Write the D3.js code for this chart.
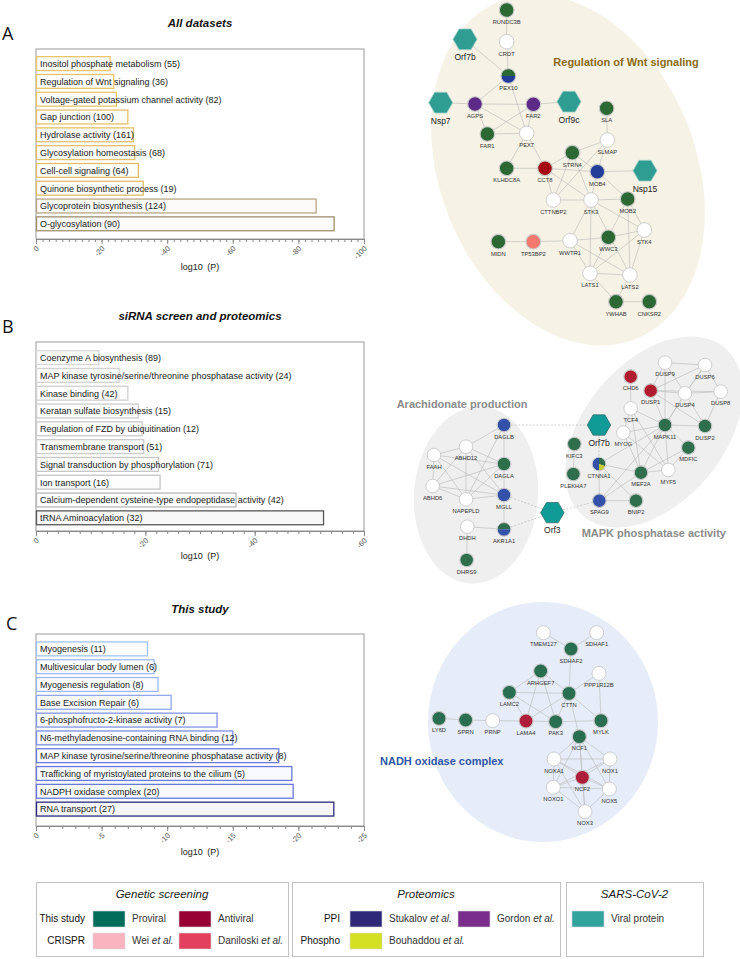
<!DOCTYPE html>
<html>
<head>
<meta charset="utf-8">
<script src="https://cdn.jsdelivr.net/npm/d3@7"></script>
<style>
  body { margin: 0; background: #fff; }
  svg { display: block; font-family: 'Liberation Sans', Arial, sans-serif; }
</style>
</head>
<body>
<svg id="fig" width="740" height="959"></svg>
<script>
// ---------- enrichment bars (log10 P) ----------
const termsA = ['Inositol phosphate metabolism (55)', 'Regulation of Wnt signaling (36)',
  'Voltage-gated potassium channel activity (82)', 'Gap junction (100)', 'Hydrolase activity (161)',
  'Glycosylation homeostasis (68)', 'Cell-cell signaling (64)', 'Quinone biosynthetic process (19)',
  'Glycoprotein biosynthesis (124)', 'O-glycosylation (90)'];
const logPA = [-22.6, -23.7, -24.5, -28.0, -29.7, -30.1, -31.2, -32.7, -85.4, -90.9];

const termsB = ['Coenzyme A biosynthesis (89)', 'MAP kinase tyrosine/serine/threonine phosphatase activity (24)',
  'Kinase binding (42)', 'Keratan sulfate biosynthesis (15)', 'Regulation of FZD by ubiquitination (12)',
  'Transmembrane transport (51)', 'Signal transduction by phosphorylation (71)', 'Ion transport (16)',
  'Calcium-dependent cysteine-type endopeptidase activity (42)', 'tRNA Aminoacylation (32)'];
const logPB = [-11.5, -15.2, -16.8, -18.7, -19.4, -19.7, -22.4, -22.7, -36.6, -52.6];

const termsC = ['Myogenesis (11)', 'Multivesicular body lumen (6)', 'Myogenesis regulation (8)',
  'Base Excision Repair (6)', '6-phosphofructo-2-kinase activity (7)',
  'N6-methyladenosine-containing RNA binding (12)', 'MAP kinase tyrosine/serine/threonine phosphatase activity (8)',
  'Trafficking of myristoylated proteins to the cilium (5)', 'NADPH oxidase complex (20)', 'RNA transport (27)'];
const logPC = [-8.5, -9.0, -9.3, -10.3, -13.8, -15.0, -18.5, -19.5, -19.6, -22.7];

const ticksA = [0, -20, -40, -60, -80, -100];
const ticksB = [0, -20, -40, -60];
const ticksC = [0, -5, -10, -15, -20, -25];

// ---------- networks: [gene, layoutX, layoutY, source] ----------
const nodesA = [
  ['RUNDC3B', 320, 30, 'pro'], ['CRDT', 320, 125, 'none'], ['Orf7b', 195, 118, 'viral'],
  ['PEX10', 325, 228, 'pro|stuk'], ['Nsp7', 122, 308, 'viral'], ['AGPS', 225, 312, 'gordon'],
  ['FAR2', 400, 313, 'gordon'], ['Orf9c', 507, 305, 'viral'], ['SLA', 620, 325, 'pro'],
  ['FAR1', 262, 402, 'pro'], ['PEX7', 380, 400, 'none'], ['SLMAP', 622, 420, 'none'],
  ['STRN4', 517, 458, 'pro'], ['KLHDC8A', 320, 505, 'pro'], ['CCT8', 435, 505, 'anti'],
  ['MOB4', 592, 515, 'stuk'], ['Nsp15', 735, 512, 'viral'], ['CTTNBP2', 460, 600, 'none'],
  ['STK3', 573, 600, 'none'], ['MOB2', 683, 597, 'pro'], ['STK4', 733, 690, 'none'],
  ['MIDN', 295, 725, 'pro'], ['TP53BP2', 400, 725, 'crispr'], ['WWTR1', 510, 722, 'none'],
  ['WWC3', 625, 712, 'pro'], ['LATS1', 570, 820, 'none'], ['LATS2', 690, 825, 'none'],
  ['YWHAB', 648, 905, 'pro'], ['CNKSR2', 748, 905, 'pro']
];
const edgesA = [
  ['RUNDC3B','CRDT'], ['CRDT','PEX10'], ['Orf7b','PEX10'], ['PEX10','AGPS'], ['PEX10','PEX7'],
  ['Nsp7','AGPS'], ['AGPS','FAR2'], ['AGPS','FAR1'], ['AGPS','PEX7'], ['FAR2','Orf9c'],
  ['FAR2','FAR1'], ['FAR2','PEX7'], ['FAR1','PEX7'], ['PEX7','KLHDC8A'], ['PEX7','CCT8'],
  ['KLHDC8A','CCT8'], ['CCT8','STRN4'], ['CCT8','MOB4'], ['CCT8','CTTNBP2'], ['CCT8','STK3'],
  ['SLA','SLMAP'], ['SLMAP','STRN4'], ['SLMAP','MOB4'], ['SLMAP','CTTNBP2'], ['STRN4','MOB4'],
  ['STRN4','STK3'], ['STRN4','CTTNBP2'], ['MOB4','Nsp15'], ['MOB4','STK3'], ['MOB4','MOB2'],
  ['STK3','CTTNBP2'], ['STK3','MOB2'], ['STK3','WWTR1'], ['STK3','LATS1'], ['STK3','LATS2'],
  ['STK3','STK4'], ['MOB2','WWC3'], ['MOB2','LATS2'], ['MOB2','STK4'], ['MIDN','TP53BP2'],
  ['TP53BP2','WWTR1'], ['WWTR1','WWC3'], ['WWTR1','LATS1'], ['WWTR1','LATS2'], ['WWC3','STK4'],
  ['WWC3','LATS1'], ['STK4','LATS1'], ['STK4','LATS2'], ['LATS1','LATS2'], ['LATS1','YWHAB'],
  ['LATS2','YWHAB'], ['YWHAB','CNKSR2']
];

const nodesB = [
  ['DAGLB', 432, 405, 'stuk'], ['ABHD12', 318, 470, 'none'], ['FAAH', 222, 495, 'none'],
  ['DAGLA', 432, 522, 'pro'], ['ABHD6', 218, 588, 'none'], ['MGLL', 432, 615, 'stuk'],
  ['NAPEPLD', 318, 628, 'none'], ['DHDH', 322, 710, 'none'], ['AKR1A1', 432, 718, 'pro|stuk'],
  ['DHRS9', 320, 810, 'pro'], ['Orf3', 577, 668, 'viral'], ['Orf7b', 717, 405, 'viral'],
  ['KIFC3', 643, 462, 'pro'], ['CTNNA1', 717, 522, 'pie'], ['PLEKHA7', 640, 552, 'pro'],
  ['SPAG9', 718, 632, 'stuk'], ['BNIP2', 828, 632, 'pro'], ['MEF2A', 843, 548, 'pro'],
  ['MYF5', 925, 540, 'none'], ['MDFIC', 985, 473, 'pro'], ['MYOG', 790, 428, 'none'],
  ['TCF4', 812, 355, 'none'], ['MAPK11', 915, 405, 'pro'], ['DUSP2', 1035, 408, 'pro'],
  ['CHD6', 812, 260, 'anti'], ['DUSP1', 872, 302, 'anti'], ['DUSP4', 975, 310, 'none'],
  ['DUSP9', 915, 218, 'none'], ['DUSP6', 1035, 225, 'none'], ['DUSP8', 1082, 305, 'none']
];
const edgesB = [
  ['DAGLB','DAGLA'], ['DAGLA','MGLL'], ['MGLL','AKR1A1'], ['AKR1A1','DHDH'], ['DHDH','DHRS9'],
  ['DAGLB','NAPEPLD'], ['DAGLB','ABHD12'], ['FAAH','ABHD12'], ['FAAH','ABHD6'], ['FAAH','NAPEPLD'],
  ['FAAH','DAGLA'], ['FAAH','MGLL'], ['ABHD12','DAGLA'], ['ABHD12','MGLL'], ['ABHD12','NAPEPLD'],
  ['ABHD12','ABHD6'], ['ABHD6','MGLL'], ['ABHD6','DAGLA'], ['ABHD6','NAPEPLD'], ['NAPEPLD','MGLL'],
  ['NAPEPLD','DAGLA'], ['KIFC3','PLEKHA7'], ['CTNNA1','SPAG9'], ['CTNNA1','MEF2A'], ['CTNNA1','BNIP2'],
  ['CTNNA1','MAPK11'], ['SPAG9','BNIP2'], ['SPAG9','MEF2A'], ['SPAG9','MAPK11'], ['MEF2A','MAPK11'],
  ['MEF2A','MYOG'], ['MEF2A','TCF4'], ['MEF2A','MDFIC'], ['MEF2A','MYF5'], ['MYOG','MAPK11'],
  ['MYOG','MYF5'], ['MYOG','TCF4'], ['TCF4','CHD6'], ['TCF4','MAPK11'], ['TCF4','MYF5'],
  ['MAPK11','DUSP1'], ['MAPK11','DUSP4'], ['MAPK11','DUSP2'], ['MAPK11','DUSP9'], ['MAPK11','DUSP6'],
  ['MAPK11','MDFIC'], ['MAPK11','MYF5'], ['DUSP1','DUSP9'], ['DUSP1','DUSP4'], ['DUSP1','DUSP6'],
  ['DUSP1','DUSP8'], ['DUSP4','DUSP9'], ['DUSP4','DUSP6'], ['DUSP4','DUSP8'], ['DUSP4','DUSP2'],
  ['DUSP9','DUSP6'], ['DUSP6','DUSP8'], ['DUSP8','DUSP2'], ['DUSP2','DUSP1'], ['MYF5','MDFIC']
];
const dashedB = [['DAGLB','Orf7b'], ['Orf7b','CTNNA1'], ['MGLL','Orf3'], ['AKR1A1','Orf3'], ['Orf3','SPAG9']];

const nodesC = [
  ['TMEM127', 490, 188, 'none'], ['SDHAF1', 650, 188, 'none'], ['SDHAF2', 573, 237, 'pro'],
  ['ARHGEF7', 482, 303, 'pro'], ['PPP1R12B', 657, 310, 'none'], ['LAMC2', 388, 367, 'pro'],
  ['CTTN', 567, 370, 'pro'], ['LY6D', 177, 445, 'pro'], ['SPRN', 257, 450, 'pro'],
  ['PRNP', 338, 452, 'none'], ['LAMA4', 438, 453, 'anti'], ['PAK3', 527, 455, 'pro'],
  ['MYLK', 663, 452, 'pro'], ['NCF1', 598, 500, 'pro'], ['NOXA1', 522, 567, 'none'],
  ['NOX1', 690, 567, 'none'], ['NCF2', 607, 622, 'anti'], ['NOXO1', 520, 652, 'none'],
  ['NOX5', 688, 657, 'none'], ['NOX3', 615, 725, 'none']
];
const edgesC = [
  ['TMEM127','SDHAF2'], ['SDHAF1','SDHAF2'], ['SDHAF2','CTTN'], ['ARHGEF7','LAMC2'], ['ARHGEF7','CTTN'],
  ['ARHGEF7','LAMA4'], ['ARHGEF7','PAK3'], ['LAMC2','CTTN'], ['LAMC2','LAMA4'], ['LAMC2','PAK3'],
  ['CTTN','LAMA4'], ['CTTN','PAK3'], ['CTTN','PPP1R12B'], ['CTTN','MYLK'], ['CTTN','NCF1'],
  ['PPP1R12B','MYLK'], ['LY6D','SPRN'], ['SPRN','PRNP'], ['PRNP','LAMA4'], ['LAMA4','PAK3'],
  ['PAK3','MYLK'], ['NCF1','NOXA1'], ['NCF1','NOX1'], ['NCF1','NCF2'], ['NCF1','NOXO1'],
  ['NCF1','NOX5'], ['NCF1','NOX3'], ['NOXA1','NOX1'], ['NOXA1','NCF2'], ['NOXA1','NOXO1'],
  ['NOXA1','NOX5'], ['NOXA1','NOX3'], ['NOX1','NCF2'], ['NOX1','NOXO1'], ['NOX1','NOX5'],
  ['NOXO1','NCF2'], ['NOXO1','NOX5'], ['NOXO1','NOX3'], ['NCF2','NOX5'], ['NCF2','NOX3'], ['NOX5','NOX3']
];

// ---------- legend ----------
const legendGroups = ['Genetic screening', 'Proteomics', 'SARS-CoV-2'];
const legendRows = [
  // group, row, row label, swatch colour, entry text, column
  [0, 0, 'This study', '#006e5a', 'Proviral', 0], [0, 0, null, '#960032', 'Antiviral', 1],
  [0, 1, 'CRISPR', '#f9b4c0', 'Wei |et al.', 0], [0, 1, null, '#e2405c', 'Daniloski |et al.', 1],
  [1, 0, 'PPI', '#2e2878', 'Stukalov |et al.', 0], [1, 0, null, '#7a2d8c', 'Gordon |et al.', 1],
  [1, 1, 'Phospho', '#d4e024', 'Bouhaddou |et al.', 0],
  [2, 0, null, '#33a39e', 'Viral protein', 0]
];

const svg = d3.select('#fig');

// ================= bar panels =================
function barPanel(cfg) {
  const g = svg.append('g');
  const x = d3.scaleLinear().domain([0, cfg.ticks[cfg.ticks.length - 1]]).range([36, 364]);
  const y = d3.scaleBand().domain(cfg.terms)
    .range([cfg.bandTop, cfg.bandTop + 178]).paddingInner(0.22).paddingOuter(0.11);

  g.append('text').attr('x', cfg.letterX).attr('y', cfg.letterY)
    .attr('font-family', "'Open Sans', sans-serif").attr('font-size', 18).attr('fill', '#111')
    .text(cfg.letter);
  g.append('text').attr('x', 200).attr('y', cfg.titleY).attr('text-anchor', 'middle')
    .attr('font-size', 11.5).attr('font-weight', 'bold').attr('font-style', 'italic').attr('fill', '#111')
    .text(cfg.title);

  g.append('rect').attr('x', 36).attr('y', cfg.top).attr('width', 328).attr('height', cfg.axisY - cfg.top)
    .attr('fill', 'none').attr('stroke', '#999').attr('stroke-width', 1);

  const col = d3.scaleLinear().domain(cfg.colDom).range(cfg.colRange).clamp(true);
  g.selectAll('rect.bar').data(cfg.vals).join('rect').attr('class', 'bar')
    .attr('x', x(0) + 0.5)
    .attr('y', (d, i) => y(cfg.terms[i]))
    .attr('width', d => x(d) - x(0) - 0.5)
    .attr('height', y.bandwidth())
    .attr('fill', d => d3.interpolateRgb('#ffffff', col(d))(0.04))
    .attr('stroke', d => col(d)).attr('stroke-width', 1.3);
  g.selectAll('text.term').data(cfg.terms).join('text').attr('class', 'term')
    .attr('x', 40).attr('y', d => y(d) + y.bandwidth() / 2 + 3.3)
    .attr('font-size', 9).attr('fill', '#1a1a1a').text(d => d);

  const minor = d3.range(0, cfg.ticks[cfg.ticks.length - 1] - 0.001, -cfg.minorStep);
  g.append('g').attr('transform', `translate(0,${cfg.axisY})`)
    .call(d3.axisBottom(x).tickValues(minor).tickSize(3).tickSizeOuter(0).tickFormat(''))
    .call(a => a.selectAll('line,path').attr('stroke', '#888'));
  const ax = g.append('g').attr('transform', `translate(0,${cfg.axisY})`)
    .call(d3.axisBottom(x).tickValues(cfg.ticks).tickSize(5).tickSizeOuter(0).tickFormat(d => String(d)));
  ax.selectAll('line,path').attr('stroke', '#888');
  ax.selectAll('text').attr('x', 0).attr('y', 0).attr('dy', 0)
    .attr('transform', 'translate(3,10) rotate(-45)').attr('text-anchor', 'end')
    .attr('font-size', 7.5).attr('fill', '#555').attr('font-family', "'Liberation Sans', Arial, sans-serif");

  g.append('text').attr('x', 200).attr('y', cfg.labelY).attr('text-anchor', 'middle')
    .attr('font-size', 9).attr('fill', '#222').text('log10\u2002(P)');
}

barPanel({ letter: 'A', title: 'All datasets', terms: termsA, vals: logPA, ticks: ticksA, minorStep: 2,
  top: 49, axisY: 239, bandTop: 54.7, titleY: 27, letterX: 2, letterY: 40, labelY: 270,
  colDom: [-22, -33, -86, -91], colRange: ['#ecc86a', '#e0bd6c', '#b7a784', '#a08f6e'] });
barPanel({ letter: 'B', title: 'siRNA screen and proteomics', terms: termsB, vals: logPB, ticks: ticksB, minorStep: 2,
  top: 342, axisY: 531, bandTop: 348.7, titleY: 320, letterX: 2, letterY: 333, labelY: 559,
  colDom: [-11, -23, -37, -53], colRange: ['#d8d8d8', '#c6c6c6', '#b9b9b9', '#555555'] });
barPanel({ letter: 'C', title: 'This study', terms: termsC, vals: logPC, ticks: ticksC, minorStep: 1,
  top: 634, axisY: 826, bandTop: 640, titleY: 613, letterX: 6, letterY: 630, labelY: 855,
  colDom: [-8, -10.5, -19.6, -22.7], colRange: ['#aacbf7', '#8ea4ee', '#6a78de', '#2b2a7e'] });

// ================= networks =================
function network(cfg) {
  const g = svg.append('g');
  const sx = d3.scaleLinear().domain([0, 3]).range([cfg.ox, cfg.ox + 1]);
  const sy = d3.scaleLinear().domain([0, 3]).range([cfg.oy, cfg.oy + 1]);
  const len = d3.scaleLinear().domain([0, 3]).range([0, 1]);

  cfg.blobs.forEach(b => {
    g.append('ellipse').attr('cx', 0).attr('cy', 0).attr('rx', len(b[2])).attr('ry', len(b[3]))
      .attr('transform', `translate(${sx(b[0])},${sy(b[1])}) rotate(${b[4]})`)
      .attr('fill', b[5]);
  });
  cfg.texts.forEach(t => {
    g.append('text').attr('x', sx(t[1])).attr('y', sy(t[2])).attr('font-size', 11).attr('font-weight', 'bold')
      .attr('fill', t[3]).text(t[0]);
  });

  const pos = new Map(cfg.nodes.map(n => [n[0], n]));
  const edge = (list, dashed) => g.selectAll(null).data(list).join('line')
    .attr('x1', d => sx(pos.get(d[0])[1])).attr('y1', d => sy(pos.get(d[0])[2]))
    .attr('x2', d => sx(pos.get(d[1])[1])).attr('y2', d => sy(pos.get(d[1])[2]))
    .attr('stroke', dashed ? '#c4c4c4' : '#b8b8b8').attr('stroke-width', dashed ? 0.8 : 0.6)
    .attr('stroke-dasharray', dashed ? '2,1.6' : null);
  edge(cfg.edges, false);
  edge(cfg.dashed || [], true);

  const r = cfg.r;
  const arc = d3.arc().innerRadius(0).outerRadius(r);
  const hex = d3.line()(d3.range(6).map(k => [cfg.hr * Math.cos(k * Math.PI / 3), cfg.hr * Math.sin(k * Math.PI / 3)]));
  const node = g.selectAll('g.n').data(cfg.nodes).join('g').attr('class', 'n')
    .attr('transform', d => `translate(${sx(d[1])},${sy(d[2])})`);
  node.each(function(d) {
    const s = d3.select(this), t = d[3];
    if (t === 'viral') {
      s.append('path').attr('d', hex + 'Z').attr('fill', cfg.colors.viral)
        .attr('stroke', cfg.hexStroke).attr('stroke-width', 0.8);
      s.append('text').attr('y', cfg.hr + 9).attr('text-anchor', 'middle').attr('font-size', 8.5)
        .attr('fill', '#222').text(d[0]);
      return;
    }
    if (t === 'pro|stuk') {
      s.append('path').attr('d', arc({ startAngle: -Math.PI / 2, endAngle: Math.PI / 2 })).attr('fill', cfg.colors.pro);
      s.append('path').attr('d', arc({ startAngle: Math.PI / 2, endAngle: 3 * Math.PI / 2 })).attr('fill', cfg.colors.stuk);
      s.append('circle').attr('r', r).attr('fill', 'none').attr('stroke', '#c9c9c9').attr('stroke-width', 1);
    } else if (t === 'pie') {
      s.append('path').attr('d', arc({ startAngle: Math.PI, endAngle: 2 * Math.PI })).attr('fill', cfg.colors.stuk);
      s.append('path').attr('d', arc({ startAngle: 0, endAngle: 1.9 })).attr('fill', cfg.colors.pro);
      s.append('path').attr('d', arc({ startAngle: 1.9, endAngle: Math.PI })).attr('fill', '#c9cc2e');
      s.append('circle').attr('r', r).attr('fill', 'none').attr('stroke', '#c9c9c9').attr('stroke-width', 1);
    } else {
      s.append('circle').attr('r', r).attr('fill', cfg.colors[t])
        .attr('stroke', t === 'none' ? '#bdbdbd' : '#c9c9c9').attr('stroke-width', t === 'none' ? 0.7 : 1.1);
    }
    s.append('text').attr('y', r + 6.8).attr('text-anchor', 'middle').attr('font-size', 5.8)
      .attr('fill', '#333').text(d[0]);
  });
}

network({ ox: 400, oy: 0, r: 7.3, hr: 12, nodes: nodesA, edges: edgesA, hexStroke: '#9fcfc9',
  colors: { pro: '#2c6834', none: '#fff', viral: '#2f9d91', gordon: '#5d2a87', stuk: '#223d98',
    anti: '#a50a14', crispr: '#f5786c' },
  blobs: [[504, 510, 384, 546, -22, '#f6f2e5']],
  texts: [['Regulation of Wnt signaling', 460, 198, '#8a6a12']] });

network({ ox: 360, oy: 290, r: 6.8, hr: 11.7, nodes: nodesB, edges: edgesB, dashed: dashedB, hexStroke: '#2e6f6c',
  colors: { pro: '#2f6e4d', none: '#fff', viral: '#119b96', stuk: '#3451a9', anti: '#b01c2e' },
  blobs: [[348, 615, 186, 266, 4, '#efefef'], [882, 426, 210, 330, 40, '#efefef']],
  texts: [['Arachidonate production', 110, 354, '#8b8b8b'], ['MAPK phosphatase activity', 665, 741, '#8b8b8b']] });

network({ ox: 380, oy: 570, r: 7, hr: 12, nodes: nodesC, edges: edgesC, hexStroke: '#2e6f6c',
  colors: { pro: '#2a6e52', none: '#fff', anti: '#ae1d3a' },
  blobs: [[489, 456, 345, 360, 0, '#e6edf8']],
  texts: [['NADH oxidase complex', 0, 585, '#2f56a6']] });

// ================= legend =================
const boxX = d3.scaleOrdinal().domain(legendGroups).range([[36, 288], [292, 560], [566, 703]]);
legendGroups.forEach(name => {
  const [x0, x1] = boxX(name);
  svg.append('rect').attr('x', x0 + 0.5).attr('y', 882.5).attr('width', x1 - x0).attr('height', 74)
    .attr('fill', '#fff').attr('stroke', '#c2c2c2');
  svg.append('text').attr('x', (x0 + x1) / 2).attr('y', 898).attr('text-anchor', 'middle')
    .attr('font-size', 11.5).attr('font-style', 'italic').attr('fill', '#222').text(name);
});
const rowLabelX = [85, 340, 0];
const swatchX = [[93, 179], [350, 458], [572, 0]];
legendRows.forEach(([grp, row, label, color, entry, c]) => {
  const yy = row === 0 ? 911 : 933;
  if (label) svg.append('text').attr('x', rowLabelX[grp]).attr('y', yy + 11).attr('text-anchor', 'end')
    .attr('font-size', 10).attr('fill', '#111').text(label);
  const sx0 = swatchX[grp][c];
  svg.append('rect').attr('x', sx0).attr('y', yy).attr('width', 32).attr('height', 16)
    .attr('fill', color).attr('stroke', '#d6d6d6').attr('stroke-width', 0.6);
  const parts = entry.split('|');
  const t = svg.append('text').attr('x', sx0 + 39).attr('y', yy + 11).attr('font-size', 10).attr('fill', '#333');
  t.append('tspan').text(parts[0]);
  if (parts[1]) t.append('tspan').attr('font-style', 'italic').text(parts[1]);
});
</script>
</body>
</html>
